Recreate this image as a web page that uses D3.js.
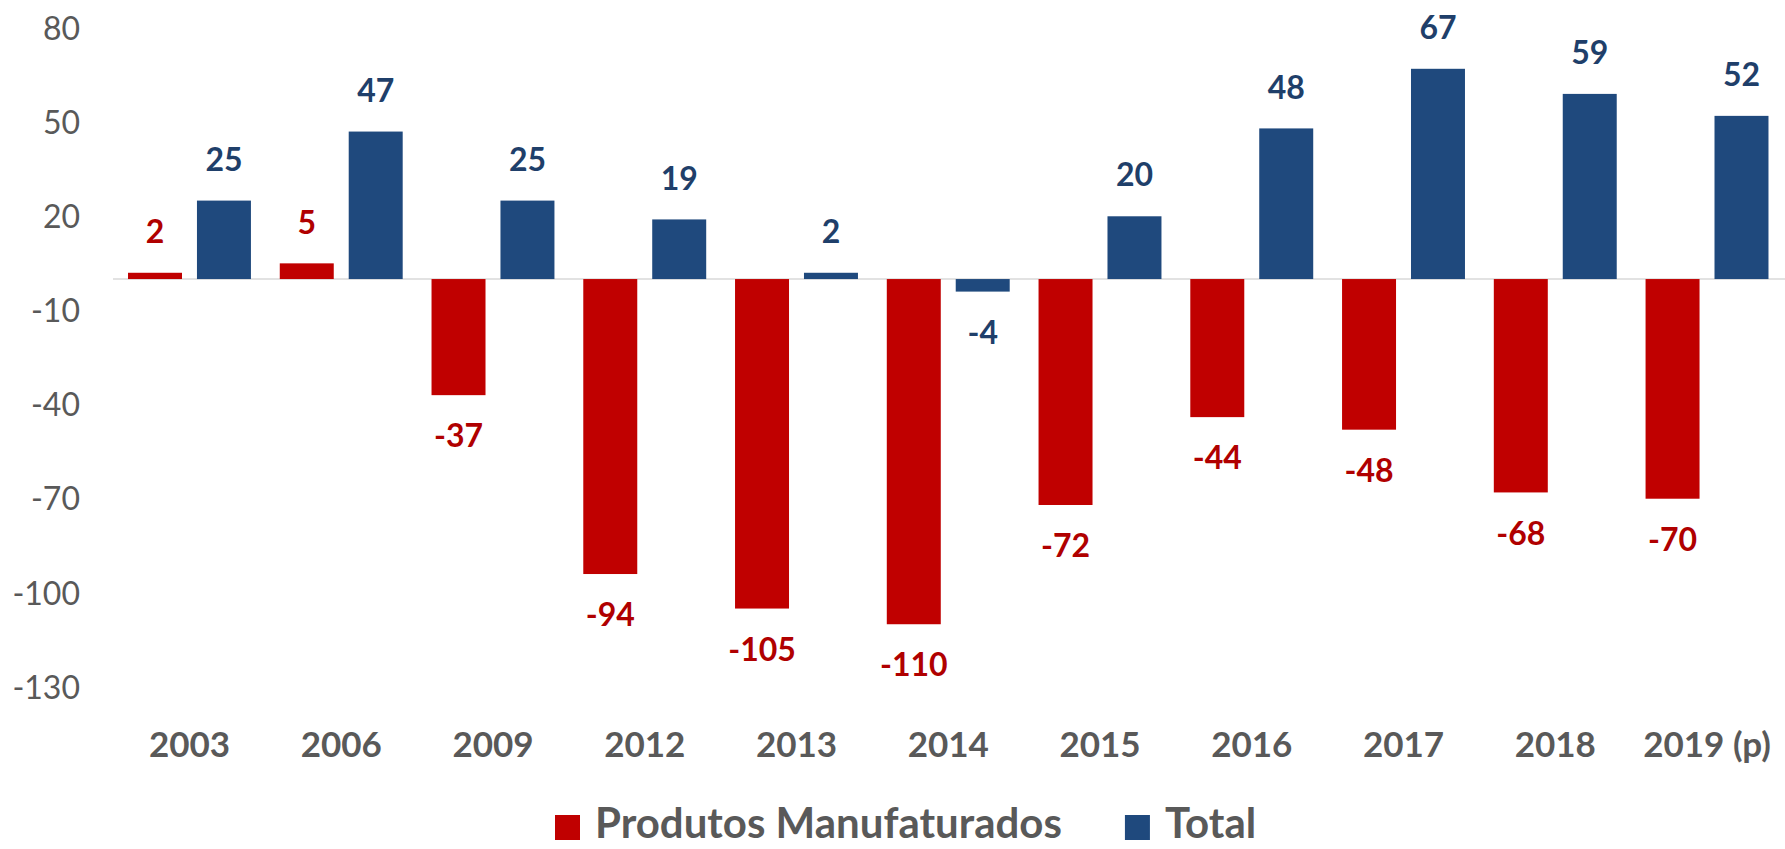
<!DOCTYPE html>
<html>
<head>
<meta charset="utf-8">
<script src="https://cdn.jsdelivr.net/npm/d3@7"></script>
<style>
  html, body { margin: 0; padding: 0; background: #ffffff; }
  svg { display: block; }
  text { font-family: Lato, "Open Sans", "Liberation Sans", sans-serif; }
</style>
</head>
<body>
<svg id="chart" width="1785" height="849"></svg>
<script>
const categories = ["2003", "2006", "2009", "2012", "2013", "2014", "2015", "2016", "2017", "2018", "2019 (p)"];
const seriesNames = ["Produtos Manufaturados", "Total"];
const manufaturados = [2, 5, -37, -94, -105, -110, -72, -44, -48, -68, -70];
const total = [25, 47, 25, 19, 2, -4, 20, 48, 67, 59, 52];
const yTicks = [80, 50, 20, -10, -40, -70, -100, -130];
const barColors = ["#C00000", "#1F497D"];
const labelColors = ["#B00000", "#1F3F6A"];

const svg = d3.select("#chart");
const W = 1785, H = 849;

const x0 = d3.scaleBand().domain(categories).range([113.6, 1782.9]).paddingInner(0.19).paddingOuter(0.095);
const x1 = d3.scaleBand().domain(seriesNames).range([0, x0.bandwidth()]).paddingInner(0.217).paddingOuter(0);
const y = d3.scaleLinear().domain([-130, 80]).range([687, 28]);

// y axis labels (no line, no ticks)
const yAxis = d3.axisLeft(y).tickValues(yTicks).tickSize(0).tickPadding(0).tickFormat(d => String(d));
const gy = svg.append("g").attr("transform", "translate(80,0)").call(yAxis);
gy.select(".domain").remove();
gy.selectAll("text")
  .attr("fill", "#595959")
  .style("font-size", "32px")
  .style("font-family", "Lato, 'Open Sans', sans-serif")
  .attr("dy", "0.35em");

// zero line
svg.append("line")
  .attr("x1", 113).attr("x2", W)
  .attr("y1", y(0)).attr("y2", y(0))
  .attr("stroke", "#D9D9D9").attr("stroke-width", 1.5);

const data = categories.map((c, i) => ({ cat: c, values: [manufaturados[i], total[i]] }));

const groups = svg.append("g").selectAll("g.grp")
  .data(data).join("g")
  .attr("class", "grp")
  .attr("transform", d => `translate(${x0(d.cat)},0)`);

groups.selectAll("rect")
  .data(d => d.values.map((v, k) => ({ key: seriesNames[k], k, v })))
  .join("rect")
  .attr("x", d => x1(d.key))
  .attr("width", x1.bandwidth())
  .attr("y", d => y(Math.max(0, d.v)))
  .attr("height", d => Math.abs(y(d.v) - y(0)))
  .attr("fill", d => barColors[d.k]);

groups.selectAll("text.lbl")
  .data(d => d.values.map((v, k) => ({ key: seriesNames[k], k, v })))
  .join("text")
  .attr("class", "lbl")
  .attr("x", d => x1(d.key) + x1.bandwidth() / 2)
  .attr("y", d => d.v >= 0 ? y(d.v) - 41 : y(d.v) + 41)
  .attr("dy", "0.35em")
  .attr("text-anchor", "middle")
  .attr("fill", d => labelColors[d.k])
  .style("font-size", "32px")
  .style("font-weight", "bold")
  .text(d => String(d.v));

// x axis category labels
const xAxis = d3.axisBottom(x0).tickSize(0).tickPadding(0);
const gx = svg.append("g").attr("transform", "translate(0,745)").call(xAxis);
gx.select(".domain").remove();
gx.selectAll("text")
  .attr("fill", "#595959")
  .attr("dy", "0.35em")
  .style("font-size", "35px")
  .style("font-weight", "bold")
  .style("font-family", "Lato, 'Open Sans', sans-serif");

// legend
const legend = svg.append("g").attr("transform", "translate(555,0)");
let lx = 0;
seriesNames.forEach((name, k) => {
  legend.append("rect")
    .attr("x", lx).attr("y", 815)
    .attr("width", 25).attr("height", 25)
    .attr("fill", barColors[k]);
  const t = legend.append("text")
    .attr("x", lx + 40).attr("y", 838)
    .attr("fill", "#595959")
    .style("font-size", "42px")
    .style("font-weight", "bold")
    .text(name);
  lx = lx + 40 + t.node().getComputedTextLength() + 63;
});
</script>
</body>
</html>
